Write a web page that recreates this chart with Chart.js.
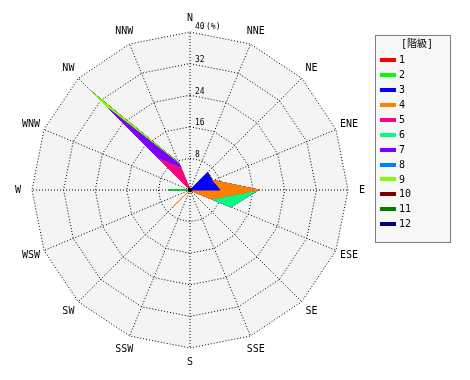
<!DOCTYPE html>
<html><head><meta charset="utf-8">
<script src="https://cdn.jsdelivr.net/npm/chart.js@4.4.1/dist/chart.umd.min.js"></script>
<style>html,body{margin:0;padding:0;background:#fff;}canvas{display:block;}</style>
</head><body>
<canvas id="c" width="470" height="380"></canvas>
<script>
// ---- data ----
const directions = ['N','NNE','NE','ENE','E','ESE','SE','SSE','S','SSW','SW','WSW','W','WNW','NW','NNW'];
const tickLabels = ['8','16','24','32','40'];
const tickUnit = '(%)';
const legendTitle = '[階級]';
const classLabels = ['1','2','3','4','5','6','7','8','9','10','11','12'];
const classColors = ['#ff0000','#00ff00','#0000ff','#ff8000','#ff0080','#00ff80','#8000ff','#0080ff','#80ff00','#800000','#008000','#000080'];
//               N   NNE NE   ENE  E    ESE  SE  SSE S  SSW SW   WSW W    WNW NW    NNW
const class1  = [0,  0,  0,   0,   0,   0,   0,  0,  0, 0,  0,   0,  0,   0,  0,    0];
const class2  = [0,  0,  0,   0,   0,   0,   0,  0,  0, 0,  0,   0,  5.5, 0,  0,    0];
const class3  = [0,  0,  6.3, 6.1, 7.6, 0,   0,  0,  0, 0,  0,   0,  0,   0,  0,    0];
const class4  = [0,  0,  0,   0.2, 9.7, 5.9, 0,  0,  0, 0,  6.0, 0,  0,   0,  0,    0];
const class5  = [0,  0,  0,   0,   0,   0,   0,  0,  0, 0,  0,   0,  0,   0,  11.0, 5.9];
const class6  = [0,  0,  0,   0,   0,   5.3, 0,  0,  0, 0,  0,   0,  0,   0,  0,    0];
const class7  = [0,  0,  0,   0,   0,   0,   0,  0,  0, 0,  0,   0,  0,   0,  18.0, 1.2];
const class8  = [0,  0,  0,   0,   0,   0,   0,  0,  0, 0,  0,   0,  0,   0,  0,    0];
const class9  = [0,  0,  0,   0,   0,   0,   0,  0,  0, 0,  0,   0,  0,   0,  6.1,  0.4];
const class10 = [0,  0,  0,   0,   0,   0,   0,  0,  0, 0,  0,   0,  0,   0,  0,    0];
const class11 = [0,  0,  0,   0,   0,   0,   0,  0,  0, 0,  0,   0,  0,   0,  0,    0];
const class12 = [0,  0,  0,   0,   0,   0,   0,  0,  0, 0,  0,   0,  0,   0,  0,    0];
const classValues = [class1,class2,class3,class4,class5,class6,class7,class8,class9,class10,class11,class12];

// cumulative (stacked) values for the radar polygons
const cumulative = [];
let run = directions.map(() => 0);
classValues.forEach(v => { run = run.map((r, i) => r + v[i]); cumulative.push(run.slice()); });

const CX = 190, CY = 190, R = 158;
const MONO = '"DejaVu Sans Mono", "Noto Sans CJK JP", monospace';

const overlay = {
  id: 'overlay',
  afterDraw(chart) {
    const s = chart.scales.r;
    const ctx = chart.ctx;
    ctx.save();
    // center dot
    ctx.fillStyle = '#000';
    ctx.beginPath(); ctx.arc(s.xCenter, s.yCenter, 2.2, 0, Math.PI * 2); ctx.fill();
    // tick labels
    ctx.font = '8px ' + MONO;
    ctx.textAlign = 'left'; ctx.textBaseline = 'alphabetic';
    tickLabels.forEach((t, i) => {
      const d = s.getDistanceFromCenterForValue(Number(t));
      const y = s.yCenter - d - (i === tickLabels.length - 1 ? 3 : 1.5);
      ctx.fillText(t, s.xCenter + 5, y);
      if (i === tickLabels.length - 1) ctx.fillText(tickUnit, s.xCenter + 16, y);
    });
    // point labels
    ctx.font = '10px ' + MONO;
    ctx.textAlign = 'center'; ctx.textBaseline = 'middle';
    directions.forEach((lab, i) => {
      const p = s.getPointPosition(i, s.drawingArea + 14);
      ctx.fillText(lab, p.x, p.y);
    });
    // legend
    const lx = 375.5, ly = 35.5, lw = 75, lh = 207;
    ctx.fillStyle = '#f7f7f7';
    ctx.fillRect(lx, ly, lw, lh);
    ctx.setLineDash([1, 1]);
    ctx.strokeStyle = '#000'; ctx.lineWidth = 1;
    ctx.strokeRect(lx, ly, lw, lh);
    ctx.setLineDash([]);
    ctx.fillStyle = '#000';
    ctx.font = '10px ' + MONO;
    ctx.textAlign = 'center';
    ctx.fillText(legendTitle, 417, 44.5);
    ctx.textAlign = 'left';
    chart.data.datasets.forEach((ds, i) => {
      const y = 60 + i * 14.93;
      ctx.fillStyle = ds.borderColor;
      ctx.fillRect(380, Math.round(y) - 2, 16, 4);
      ctx.fillStyle = '#000';
      ctx.fillText(ds.label, 399, y + 0.5);
    });
    ctx.restore();
  }
};

new Chart(document.getElementById('c'), {
  type: 'radar',
  data: {
    labels: directions,
    datasets: classLabels.map((lab, i) => ({
      label: lab,
      data: cumulative[i],
      backgroundColor: classColors[i],
      borderColor: classColors[i],
      borderWidth: 1,
      pointRadius: 0,
      pointHoverRadius: 0,
      fill: 'origin',
      tension: 0,
      clip: false
    }))
  },
  options: {
    responsive: false,
    animation: false,
    layout: { padding: 0 },
    plugins: { legend: { display: false }, tooltip: { enabled: false } },
    elements: { line: { tension: 0 } },
    scales: {
      r: {
        min: 0, max: 40,
        backgroundColor: '#f4f4f4',
        ticks: { display: false, stepSize: 8 },
        pointLabels: { display: false },
        grid: { color: '#000', lineWidth: 1, circular: false },
        border: { dash: [1, 2] },
        angleLines: { color: '#000', lineWidth: 1, borderDash: [1, 2] },
        afterFit: (axis) => { axis.xCenter = CX; axis.yCenter = CY; axis.drawingArea = R; }
      }
    }
  },
  plugins: [overlay]
});
</script>
</body></html>
